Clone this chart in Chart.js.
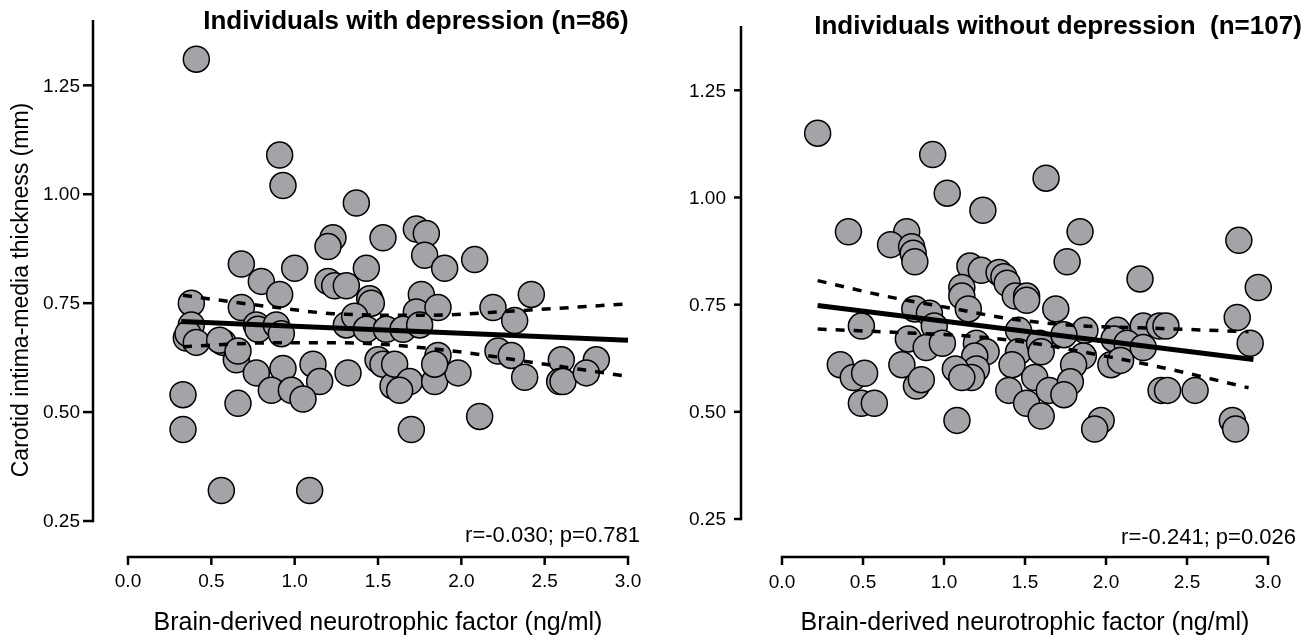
<!DOCTYPE html>
<html>
<head>
<meta charset="utf-8">
<script src="https://cdn.jsdelivr.net/npm/chart.js@4"></script>
<style>
  body { margin: 0; background: #fff; }
  #wrap { position: relative; width: 1314px; height: 639px; }
  canvas { position: absolute; top: 0; }
  #left { left: 0; }
  #right { left: 657px; }
</style>
</head>
<body>
<div id="wrap">
  <canvas id="left" width="657" height="639"></canvas>
  <canvas id="right" width="657" height="639"></canvas>
</div>
<script>
// tick labels
const xTicks = [0, 0.5, 1.0, 1.5, 2.0, 2.5, 3.0];
const yTicks = [0.25, 0.50, 0.75, 1.00, 1.25];

// with depression: BDNF (ng/ml) and CIMT (mm)
const depX = [0.41, 0.91, 0.93, 1.37, 1.73, 1.79, 1.53, 1.23, 1.20, 2.08, 1.78, 0.68, 1.00, 1.43, 1.90,
  0.80, 1.20, 1.24, 1.31, 0.91, 1.76, 2.42, 1.45, 1.46, 0.38, 0.68, 1.73, 1.86, 2.19, 2.32,
  0.38, 0.35, 0.36, 0.41, 0.57, 0.55, 0.65, 0.66, 0.77, 0.78, 0.89, 0.92, 1.31, 1.36, 1.43,
  1.55, 1.65, 1.75, 0.77, 0.93, 1.11, 1.15, 1.32, 0.86, 0.98, 1.05, 0.33, 0.66, 0.33, 1.50,
  1.53, 1.59, 1.60, 1.69, 1.63, 1.84, 1.98, 1.86, 1.84, 2.22, 2.30, 2.38, 2.60, 2.59, 2.61,
  2.81, 2.75, 2.11, 1.70, 0.56, 1.09];
const depY = [1.31, 1.09, 1.02, 0.98, 0.92, 0.91, 0.90, 0.90, 0.88, 0.85, 0.86, 0.84, 0.83, 0.83, 0.83,
  0.80, 0.80, 0.79, 0.79, 0.77, 0.77, 0.77, 0.76, 0.75, 0.75, 0.74, 0.73, 0.74, 0.74, 0.71,
  0.70, 0.67, 0.68, 0.66, 0.66, 0.665, 0.62, 0.64, 0.70, 0.69, 0.70, 0.68, 0.70, 0.72, 0.69,
  0.69, 0.69, 0.70, 0.59, 0.60, 0.61, 0.57, 0.59, 0.55, 0.55, 0.53, 0.54, 0.52, 0.46, 0.62,
  0.61, 0.56, 0.61, 0.57, 0.55, 0.57, 0.59, 0.63, 0.61, 0.64, 0.63, 0.58, 0.62, 0.57, 0.57,
  0.62, 0.59, 0.49, 0.46, 0.32, 0.32];

// without depression
const nodX = [0.22, 0.93, 1.63, 1.02, 1.24, 0.41, 0.77, 0.67, 0.80, 0.81, 0.82, 1.84, 1.76, 2.21, 2.82,
  2.94, 1.16, 1.23, 1.34, 1.37, 1.39, 1.44, 1.51, 1.51, 1.11, 1.11, 1.15, 0.82, 0.49, 0.91,
  0.94, 0.78, 0.89, 0.99, 1.20, 1.26, 1.19, 1.20, 1.17, 1.46, 1.46, 1.59, 1.60, 1.69, 1.87,
  2.07, 2.23, 2.33, 2.37, 1.74, 2.05, 2.13, 2.23, 1.86, 1.80, 2.03, 2.09, 2.81, 2.89, 0.36,
  0.44, 0.51, 0.74, 0.83, 0.86, 1.07, 1.11, 0.49, 0.57, 1.08, 1.42, 1.40, 1.51, 1.56, 1.60,
  1.65, 1.78, 1.74, 2.34, 2.38, 2.55, 1.97, 1.93, 2.78, 2.80];
const nodY = [1.15, 1.10, 1.045, 1.01, 0.97, 0.92, 0.92, 0.89, 0.885, 0.87, 0.85, 0.92, 0.85, 0.81, 0.90,
  0.79, 0.84, 0.83, 0.825, 0.815, 0.80, 0.77, 0.77, 0.76, 0.79, 0.77, 0.74, 0.74, 0.70, 0.73,
  0.70, 0.67, 0.65, 0.66, 0.66, 0.64, 0.63, 0.60, 0.58, 0.69, 0.64, 0.66, 0.64, 0.74, 0.69,
  0.69, 0.70, 0.70, 0.70, 0.68, 0.67, 0.66, 0.65, 0.63, 0.61, 0.61, 0.62, 0.72, 0.66, 0.61,
  0.58, 0.59, 0.61, 0.56, 0.575, 0.60, 0.58, 0.52, 0.52, 0.48, 0.61, 0.55, 0.52, 0.58, 0.49,
  0.55, 0.57, 0.54, 0.55, 0.55, 0.55, 0.48, 0.46, 0.48, 0.46];

// regression line and 95% band
const depFitX = [0.32, 3.0];
const depFitY = [0.708, 0.665];
const depUpX = [0.33, 0.87, 1.23, 1.79, 2.31, 2.98];
const depUpY = [0.768, 0.741, 0.726, 0.722, 0.732, 0.748];
const depLoX = [0.33, 0.87, 1.27, 1.91, 2.41, 2.98];
const depLoY = [0.650, 0.659, 0.659, 0.642, 0.615, 0.583];

const nodFitX = [0.22, 2.91];
const nodFitY = [0.748, 0.622];
const nodUpX = [0.22, 0.65, 1.04, 1.41, 1.82, 2.21, 2.88];
const nodUpY = [0.806, 0.769, 0.742, 0.717, 0.701, 0.696, 0.687];
const nodLoX = [0.22, 0.78, 1.18, 1.57, 1.84, 2.35, 2.88];
const nodLoY = [0.693, 0.684, 0.676, 0.659, 0.641, 0.603, 0.556];

const FONT = '"Liberation Sans", Arial, sans-serif';

function pts(xs, ys) { return xs.map((v, i) => ({x: v, y: ys[i]})); }

// Prism-style detached axes + texts
const prismAxes = {
  id: 'prismAxes',
  afterDraw(chart, args, o) {
    const {ctx, chartArea, scales} = chart;
    const xs = scales.x, ys = scales.y;
    const ax = chartArea.left - o.yGap;
    const ay = chartArea.bottom + o.xGap;
    ctx.save();
    ctx.strokeStyle = '#000';
    ctx.fillStyle = '#000';
    ctx.lineWidth = 2.5;

    // y axis
    const yBot = ys.getPixelForValue(yTicks[0]);
    ctx.beginPath();
    ctx.moveTo(ax, chartArea.top);
    ctx.lineTo(ax, yBot + 1.2);
    ctx.stroke();
    ctx.font = '19px ' + FONT;
    ctx.textAlign = 'right';
    ctx.textBaseline = 'middle';
    yTicks.forEach(v => {
      const py = ys.getPixelForValue(v);
      ctx.beginPath();
      ctx.moveTo(ax - o.tickLen, py);
      ctx.lineTo(ax, py);
      ctx.stroke();
      ctx.fillText(v.toFixed(2), ax - o.tickLen - o.labelGap, py + 1);
    });

    // x axis
    const x0 = xs.getPixelForValue(xTicks[0]);
    const x1 = xs.getPixelForValue(xTicks[xTicks.length - 1]);
    ctx.beginPath();
    ctx.moveTo(x0 - 1.2, ay);
    ctx.lineTo(x1 + 1.2, ay);
    ctx.stroke();
    ctx.textAlign = 'center';
    xTicks.forEach(v => {
      const px = xs.getPixelForValue(v);
      ctx.beginPath();
      ctx.moveTo(px, ay);
      ctx.lineTo(px, ay + 8);
      ctx.stroke();
      ctx.fillText(v.toFixed(1), px, o.xLabelY);
    });

    // axis titles
    ctx.font = '25px ' + FONT;
    ctx.fillText(o.xTitle, (x0 + x1) / 2, o.xTitleY);
    if (o.yTitle) {
      ctx.save();
      ctx.translate(o.yTitleX, o.yTitleY);
      ctx.rotate(-Math.PI / 2);
      ctx.font = '23px ' + FONT;
      ctx.fillText(o.yTitle, 0, 0);
      ctx.restore();
    }

    // panel title
    ctx.font = 'bold 26px ' + FONT;
    ctx.fillText(o.title, o.titleX, o.titleY);

    // correlation note
    ctx.font = '22px ' + FONT;
    ctx.textAlign = 'right';
    ctx.fillText(o.note, o.noteX, o.noteY);
    ctx.restore();
  }
};

function makePanel(id, px, py, fx, fy, ux, uy, lx, ly, pad, axOpt) {
  const dash = {
    type: 'line', borderColor: '#000', borderWidth: 3.5, borderDash: [9, 9],
    pointRadius: 0, tension: 0.4, cubicInterpolationMode: 'monotone', fill: false, order: 0, clip: false
  };
  new Chart(document.getElementById(id), {
    type: 'scatter',
    data: {
      datasets: [
        { type: 'line', data: pts(fx, fy), borderColor: '#000', borderWidth: 5,
          pointRadius: 0, fill: false, order: 0, clip: false },
        Object.assign({ data: pts(ux, uy) }, dash),
        Object.assign({ data: pts(lx, ly) }, dash),
        { data: pts(px, py), backgroundColor: '#a3a3a8', borderColor: '#000',
          borderWidth: 1.5, pointRadius: 13, pointHoverRadius: 13, order: 1, clip: false }
      ]
    },
    options: {
      responsive: false,
      animation: false,
      devicePixelRatio: 1,
      layout: { padding: pad },
      scales: {
        x: { type: 'linear', min: 0, max: 3, display: false },
        y: { type: 'linear', min: 0.25, max: 1.40, display: false }
      },
      plugins: {
        legend: { display: false },
        tooltip: { enabled: false },
        prismAxes: axOpt
      }
    },
    plugins: [prismAxes]
  });
}

makePanel('left', depX, depY, depFitX, depFitY, depUpX, depUpY, depLoX, depLoY,
  { left: 128, right: 29, top: 20, bottom: 118 },
  { yGap: 35, xGap: 36, tickLen: 10, labelGap: 3, xLabelY: 582, xTitleY: 623,
    xTitle: 'Brain-derived neurotrophic factor (ng/ml)',
    yTitle: 'Carotid intima-media thickness (mm)', yTitleX: 22, yTitleY: 290,
    title: 'Individuals with depression (n=86)', titleX: 416, titleY: 22,
    note: 'r=-0.030; p=0.781', noteX: 640, noteY: 536 });

makePanel('right', nodX, nodY, nodFitX, nodFitY, nodUpX, nodUpY, nodLoX, nodLoY,
  { left: 125, right: 46, top: 26, bottom: 120 },
  { yGap: 41, xGap: 38, tickLen: 7, labelGap: 8, xLabelY: 583, xTitleY: 623,
    xTitle: 'Brain-derived neurotrophic factor (ng/ml)',
    yTitle: '', yTitleX: 0, yTitleY: 0,
    title: 'Individuals without depression  (n=107)', titleX: 401, titleY: 27,
    note: 'r=-0.241; p=0.026', noteX: 639, noteY: 538 });
</script>
</body>
</html>
